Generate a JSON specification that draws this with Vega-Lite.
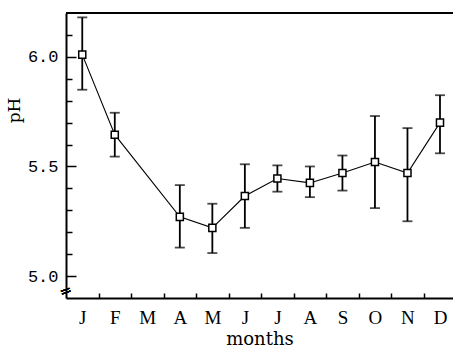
{
  "$schema": "https://vega.github.io/schema/vega-lite/v6.json",
  "autosize": "none",
  "padding": {"left": 66, "top": 13, "right": 0, "bottom": 50},
  "width": 387,
  "height": 285,
  "background": "white",
  "config": {
    "view": {"stroke": null},
    "axis": {
      "labelOverlap": false, "labelFlush": false, "grid": false,
      "labelColor": "black", "titleColor": "black", "titleFontWeight": "normal",
      "tickColor": "black", "tickWidth": 1.5, "domainColor": "black", "domainWidth": 2
    },
    "axisX": {
      "titleFont": "DejaVu Serif", "titleFontSize": 18, "titlePadding": 3,
      "labelExpr": "datum.value % 1 == 0 ? ['J','F','M','A','M','J','J','A','S','O','N','D'][datum.value-1] : ''",
      "labelFont": "Liberation Serif", "labelFontSize": 19, "labelPadding": 10,
      "tickSize": {"condition": {"test": "datum.value % 1 == 0", "value": 0}, "value": -5}
    },
    "axisY": {
      "titleFont": "DejaVu Serif", "titleFontSize": 17,
      "titleY": 97, "titleX": -43,
      "labelExpr": "abs(datum.value*2 - round(datum.value*2)) < 0.001 ? format(datum.value, '.1f') : ''",
      "labelFont": "Liberation Mono", "labelFontSize": 17, "labelPadding": 18,
      "tickSize": {"condition": {"test": "abs(datum.value*2 - round(datum.value*2)) < 0.001", "value": -10}, "value": -6}
    }
  },
  "data": {
    "values": [
      {"m": 1, "ph": 6.01, "lo": 5.85, "hi": 6.18},
      {"m": 2, "ph": 5.645, "lo": 5.545, "hi": 5.745},
      {"m": 4, "ph": 5.27, "lo": 5.13, "hi": 5.415},
      {"m": 5, "ph": 5.22, "lo": 5.105, "hi": 5.33},
      {"m": 6, "ph": 5.365, "lo": 5.22, "hi": 5.51},
      {"m": 7, "ph": 5.445, "lo": 5.385, "hi": 5.505},
      {"m": 8, "ph": 5.425, "lo": 5.36, "hi": 5.5},
      {"m": 9, "ph": 5.47, "lo": 5.39, "hi": 5.55},
      {"m": 10, "ph": 5.52, "lo": 5.31, "hi": 5.73},
      {"m": 11, "ph": 5.47, "lo": 5.25, "hi": 5.675},
      {"m": 12, "ph": 5.7, "lo": 5.56, "hi": 5.825}
    ]
  },
  "layer": [
    {
      "mark": {"type": "line", "color": "black", "strokeWidth": 1.1},
      "encoding": {
        "x": {"field": "m", "type": "quantitative", "title": "months",
          "scale": {"domain": [0.5, 12.4], "nice": false, "zero": false},
          "axis": {"tickCount": 100, "values": [1, 1.5, 2, 2.5, 3, 3.5, 4, 4.5, 5, 5.5, 6, 6.5, 7, 7.5, 8, 8.5, 9, 9.5, 10, 10.5, 11, 11.5, 12]}},
        "y": {"field": "ph", "type": "quantitative", "title": "pH",
          "scale": {"domain": [4.9, 6.2], "nice": false, "zero": false},
          "axis": {"tickCount": 100, "values": [5.0, 5.1, 5.2, 5.3, 5.4, 5.5, 5.6, 5.7, 5.8, 5.9, 6.0, 6.1]}}
      }
    },
    {
      "mark": {"type": "errorbar", "ticks": {"size": 10}, "thickness": 1.8, "color": "black"},
      "encoding": {
        "x": {"field": "m", "type": "quantitative", "title": "months"},
        "y": {"field": "lo", "type": "quantitative", "title": "pH"},
        "y2": {"field": "hi"}
      }
    },
    {
      "mark": {"type": "point", "shape": "square", "size": 50, "filled": true, "fill": "white", "stroke": "black", "strokeWidth": 1.5, "opacity": 1},
      "encoding": {
        "x": {"field": "m", "type": "quantitative", "title": "months"},
        "y": {"field": "ph", "type": "quantitative", "title": "pH"}
      }
    },
    {
      "mark": {"type": "rule", "color": "black", "strokeWidth": 2},
      "encoding": {"y": {"datum": 6.2}}
    },
    {
      "mark": {"type": "text", "text": "=", "font": "DejaVu Sans", "fontSize": 14, "angle": 340, "color": "black"},
      "encoding": {"x": {"datum": 0.5}, "y": {"datum": 4.93}}
    }
  ]
}
